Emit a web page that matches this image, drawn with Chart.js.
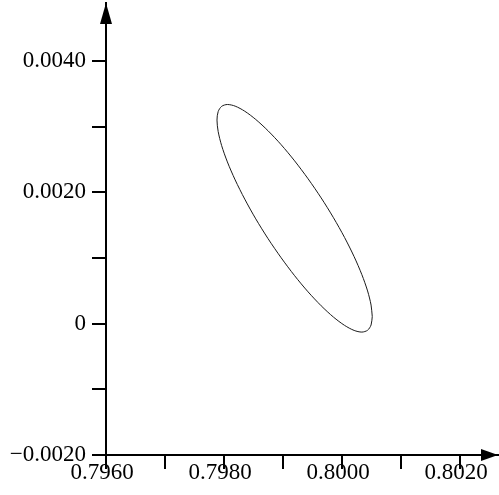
<!DOCTYPE html>
<html>
<head>
<meta charset="utf-8">
<script src="https://cdn.jsdelivr.net/npm/chart.js@4/dist/chart.umd.min.js"></script>
<style>
  html, body { margin: 0; padding: 0; background: #fff; }
</style>
</head>
<body>
<canvas id="c" width="499" height="495"></canvas>
<script>
// Ellipse outline points
const ellipseX = [0.800510, 0.800490, 0.800431, 0.800334, 0.800203, 0.800041, 0.799853, 0.799645, 0.799423,
  0.799195, 0.798967, 0.798745, 0.798537, 0.798350, 0.798188, 0.798056, 0.797959, 0.797900,
  0.797880, 0.797900, 0.797959, 0.798056, 0.798188, 0.798350, 0.798537, 0.798745, 0.798967,
  0.799195, 0.799423, 0.799645, 0.799853, 0.800041, 0.800203, 0.800334, 0.800431, 0.800490, 0.800510];
const ellipseY = [0.000108, -0.000021, -0.000101, -0.000129, -0.000104, -0.000027, 0.000099, 0.000271, 0.000483,
  0.000729, 0.001002, 0.001293, 0.001594, 0.001895, 0.002187, 0.002461, 0.002709, 0.002924,
  0.003098, 0.003227, 0.003307, 0.003335, 0.003310, 0.003233, 0.003107, 0.002935, 0.002723,
  0.002477, 0.002204, 0.001913, 0.001612, 0.001311, 0.001019, 0.000745, 0.000497, 0.000282, 0.000108];

// Axis ranges, tick positions and tick labels
const xRange = [0.7960, 0.80264];
const yRange = [-0.0020, 0.00488];
const xTicks = [0.7960, 0.7970, 0.7980, 0.7990, 0.8000, 0.8010, 0.8020];
const yTicks = [-0.0020, -0.0010, 0, 0.0010, 0.0020, 0.0030, 0.0040];
const xTickLabels = ['0.7960', '', '0.7980', '', '0.8000', '', '0.8020'];
const yTickLabels = ['\u22120.0020', '', '0', '', '0.0020', '', '0.0040'];

const points = ellipseX.map((x, i) => ({ x: x, y: ellipseY[i] }));

const arrows = {
  id: 'arrows',
  afterDraw(chart) {
    const ctx = chart.ctx;
    const xs = chart.scales.x, ys = chart.scales.y;
    const ax = xs.getPixelForValue(xRange[0]);
    const ay = ys.getPixelForValue(yRange[0]);
    ctx.save();
    ctx.fillStyle = '#000';
    const r = chart.chartArea.right;
    ctx.beginPath();
    ctx.moveTo(r, ay);
    ctx.lineTo(r - 17, ay - 6);
    ctx.lineTo(r - 17, ay + 6);
    ctx.closePath();
    ctx.fill();
    const t = chart.chartArea.top;
    ctx.beginPath();
    ctx.moveTo(ax, t);
    ctx.lineTo(ax - 6, t + 21);
    ctx.lineTo(ax + 6, t + 21);
    ctx.closePath();
    ctx.fill();
    ctx.restore();
  }
};

const font = { family: '"Liberation Serif", "Times New Roman", serif', size: 23 };

new Chart(document.getElementById('c'), {
  type: 'scatter',
  data: {
    datasets: [{
      data: points,
      showLine: true,
      borderColor: '#1a1a1a',
      borderWidth: 1,
      pointRadius: 0,
      tension: 0.3,
      fill: false
    }]
  },
  options: {
    responsive: false,
    animation: false,
    layout: { padding: { top: 3, right: 1, left: 0, bottom: 0 } },
    plugins: { legend: { display: false }, tooltip: { enabled: false } },
    scales: {
      x: {
        type: 'linear',
        min: xRange[0], max: xRange[1],
        afterBuildTicks(s) { s.ticks = xTicks.map(v => ({ value: v })); },
        afterFit(s) { s.height = 40; s.paddingLeft = 0; s.paddingRight = 0; },
        border: { display: true, color: '#000', width: 2 },
        grid: { drawOnChartArea: false, drawTicks: true, tickLength: 14, color: '#000', lineWidth: 2 },
        ticks: {
          autoSkip: false, maxRotation: 0, color: '#000', font: font,
          padding: -10, labelOffset: -4,
          callback: (v, i) => xTickLabels[i]
        }
      },
      y: {
        type: 'linear',
        min: yRange[0], max: yRange[1],
        afterBuildTicks(s) { s.ticks = yTicks.map(v => ({ value: v })); },
        afterFit(s) { s.width = 106; s.paddingTop = 0; s.paddingBottom = 0; },
        border: { display: true, color: '#000', width: 2 },
        grid: { drawOnChartArea: false, drawTicks: true, tickLength: 14, color: '#000', lineWidth: 2 },
        ticks: {
          autoSkip: false, color: '#000', font: font, padding: 6,
          callback: (v, i) => yTickLabels[i]
        }
      }
    }
  },
  plugins: [arrows]
});
</script>
</body>
</html>
